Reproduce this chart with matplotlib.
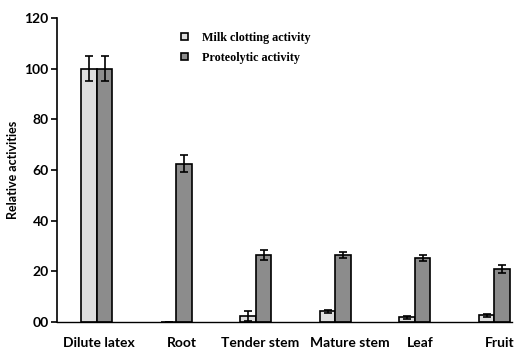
import matplotlib.pyplot as plt
import matplotlib.transforms as mtransforms
import numpy as np

categories = ["Dilute latex", "Root", "Tender stem", "Mature stem", "Leaf", "Fruit"]
milk = [100, 0, 2.4, 4.3, 1.9, 2.6]
milk_err = [5, 0, 2.0, 0.6, 0.6, 0.5]
prot = [100, 62.5, 26.5, 26.5, 25.2, 21.0]
prot_err = [5, 3.3, 2.0, 1.3, 1.3, 1.5]
yticks = [0, 20, 40, 60, 80, 100, 120]
ytick_labels = ["00", "20", "40", "60", "80", "100", "120"]

fig = plt.figure(figsize=(5.14, 3.5), dpi=100)
ax = fig.add_axes([0.111, 0.080, 0.885, 0.869])

x = np.arange(len(categories))
w = 0.195
ax.bar(x - w/2, milk, w, yerr=milk_err, color="#dedede", edgecolor="black",
       linewidth=1.2, capsize=3, error_kw=dict(elinewidth=1.2, capthick=1.2),
       label="Milk clotting activity")
ax.bar(x + w/2, prot, w, yerr=prot_err, color="#8c8c8c", edgecolor="black",
       linewidth=1.2, capsize=3, error_kw=dict(elinewidth=1.2, capthick=1.2),
       label="Proteolytic activity")

ax.set_xlim(-0.5, 5.22)
ax.set_ylim(0, 120)
ax.set_yticks(yticks)
ax.set_yticklabels(ytick_labels, fontfamily="Lato", fontweight="bold", fontsize=10)
ax.set_xticks(x)
ax.set_xticklabels(categories, fontfamily="Lato", fontweight="bold", fontsize=10)
ax.tick_params(axis="x", length=0, pad=11)
ax.tick_params(axis="y", length=4, width=1.2, direction="out", pad=2)
ax.set_ylabel("Relative activities", fontfamily="Lato", fontweight="bold", fontsize=9, labelpad=4)

# small horizontal nudges of the category labels, as in the original
shifts = [2, 6, 4, 14, 5, 5]
for lab, dx in zip(ax.get_xticklabels(), shifts):
    lab.set_transform(lab.get_transform() + mtransforms.ScaledTranslation(dx / 100, 0, fig.dpi_scale_trans))

for s in ["top", "right"]:
    ax.spines[s].set_visible(False)
ax.spines["left"].set_linewidth(1.2)
ax.spines["bottom"].set_linewidth(1.0)

ax.legend(loc="upper left", bbox_to_anchor=(0.248, 0.99), frameon=False,
          prop=dict(family="Liberation Serif", weight="bold", size=8.7),
          handlelength=0.6, handleheight=0.6, handletextpad=1.2, labelspacing=0.65)

fig.savefig("out.png", dpi=100)
